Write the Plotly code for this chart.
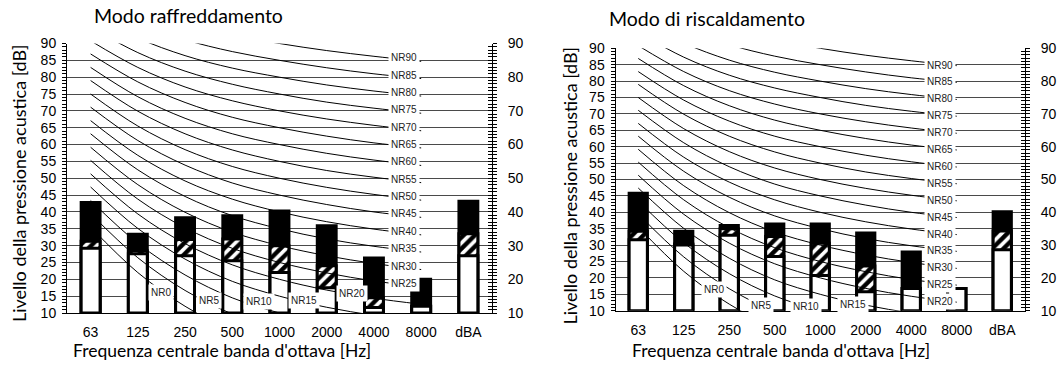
import plotly.graph_objects as go

# ---------------- data ----------------
categories = ["63", "125", "250", "500", "1000", "2000", "4000", "8000", "dBA"]
octave_bands = ["63", "125", "250", "500", "1000", "2000", "4000", "8000"]

# Cooling mode (left chart) - bar levels [dB]
cool_white = [29.2, 27.6, 27.0, 25.5, 22.0, 17.5, 11.6, 12.0, 27.0]
cool_hatch = [31.3, 28.5, 31.8, 32.0, 30.0, 24.0, 14.5, 12.0, 33.5]
cool_total = [42.8, 33.4, 38.3, 38.9, 40.3, 35.9, 26.3, 20.0, 43.2]

# Heating mode (right chart) - bar levels [dB]
heat_white = [31.6, 30.0, 33.0, 26.5, 20.7, 15.8, 16.8, 16.8, 28.6]
heat_hatch = [34.2, 30.3, 35.0, 32.6, 30.6, 23.6, 16.8, 16.8, 34.3]
heat_total = [45.8, 34.2, 36.0, 36.4, 36.4, 33.7, 27.9, 16.8, 40.2]

# NR reference curves (levels at 63..8000 Hz)
nr_levels = [0, 5, 10, 15, 20, 25, 30, 35, 40, 45, 50, 55, 60, 65, 70, 75, 80, 85, 90]
nr_curves = [
    [35.5, 22.0, 12.0, 4.8, 0.0, -3.5, -6.1, -8.0],
    [39.5, 26.4, 16.7, 9.7, 5.0, 1.6, -1.0, -2.9],
    [43.4, 30.7, 21.3, 14.5, 10.0, 6.7, 4.2, 2.3],
    [47.4, 35.1, 26.0, 19.4, 15.0, 11.7, 9.3, 7.5],
    [51.3, 39.4, 30.6, 24.3, 20.0, 16.8, 14.4, 12.6],
    [55.3, 43.8, 35.3, 29.2, 25.0, 21.9, 19.5, 17.8],
    [59.2, 48.1, 39.9, 34.0, 30.0, 27.0, 24.7, 22.9],
    [63.2, 52.5, 44.6, 38.9, 35.0, 32.0, 29.8, 28.1],
    [67.1, 56.8, 49.2, 43.8, 40.0, 37.1, 34.9, 33.2],
    [71.1, 61.2, 53.9, 48.6, 45.0, 42.2, 40.0, 38.4],
    [75.0, 65.5, 58.5, 53.5, 50.0, 47.3, 45.2, 43.5],
    [79.0, 69.9, 63.2, 58.4, 55.0, 52.3, 50.3, 48.7],
    [82.9, 74.2, 67.8, 63.2, 60.0, 57.4, 55.4, 53.8],
    [86.9, 78.6, 72.5, 68.1, 65.0, 62.5, 60.5, 59.0],
    [90.8, 82.9, 77.1, 73.0, 70.0, 67.6, 65.7, 64.1],
    [94.8, 87.3, 81.8, 77.9, 75.0, 72.6, 70.8, 69.3],
    [98.7, 91.6, 86.4, 82.7, 80.0, 77.7, 75.9, 74.4],
    [102.7, 96.0, 91.1, 87.6, 85.0, 82.8, 81.0, 79.6],
    [106.6, 100.3, 95.7, 92.5, 90.0, 87.9, 86.2, 84.7],
]

# NR labels placed along the curves (category index, level) for the low curves
cool_low_labels = {0: (1.49, 16.2), 5: (2.51, 13.7), 10: (3.57, 13.4), 15: (4.52, 13.6), 20: (5.54, 15.9)}
heat_low_labels = {0: (1.67, 16.5), 5: (2.70, 11.7), 10: (3.69, 11.4), 15: (4.73, 12.0)}

titles = ["Modo raffreddamento", "Modo di riscaldamento"]
y_title = "Livello della pressione acustica [dB]"
x_title = "Frequenza centrale banda d'ottava [Hz]"

# ---------------- figure ----------------
W, H = 1057, 368
BASE = 10
TICKFONT = dict(family="Liberation Sans, Arial", size=14, color="black")
TITLEFONT = "Lato, Open Sans, sans-serif"
LABELFONT = dict(family="Liberation Sans, Arial", size=10, color="#222")

fig = go.Figure()
BAR_LINE = dict(color="black", width=3)

def add_bars(xa, ya_black, ya_top, white, hatch, total):
    fig.add_trace(go.Bar(x=categories, y=[v - BASE for v in total], base=BASE, width=0.4,
                         marker=dict(color="black", line=BAR_LINE),
                         xaxis=xa, yaxis=ya_black, showlegend=False))
    fig.add_trace(go.Bar(x=categories, y=[v - BASE for v in hatch], base=BASE, width=0.4,
                         marker=dict(color="white", line=BAR_LINE,
                                     pattern=dict(shape="/", fgcolor="black", bgcolor="white",
                                                  fgopacity=1, size=8, solidity=0.55)),
                         xaxis=xa, yaxis=ya_top, showlegend=False))
    fig.add_trace(go.Bar(x=categories, y=[v - BASE for v in white], base=BASE, width=0.4,
                         marker=dict(color="white", line=BAR_LINE),
                         xaxis=xa, yaxis=ya_top, showlegend=False))

def add_curves(xa, ya):
    for curve in nr_curves:
        fig.add_trace(go.Scatter(x=octave_bands, y=curve, mode="lines",
                                 line=dict(color="black", width=1, shape="spline", smoothing=1),
                                 xaxis=xa, yaxis=ya, showlegend=False, hoverinfo="skip"))

add_bars("x", "y", "y2", cool_white, cool_hatch, cool_total)
add_curves("x", "y3")
add_bars("x2", "y4", "y5", heat_white, heat_hatch, heat_total)
add_curves("x2", "y6")

annotations = []
end_idx = octave_bands.index("8000")

def add_nr_labels(xref, yref, low_labels, yshift_hi):
    for lvl, curve in zip(nr_levels, nr_curves):
        if lvl in low_labels:
            xi, yv = low_labels[lvl]
            annotations.append(dict(x=xi, y=yv, xref=xref, yref=yref, text=f"NR{lvl}",
                                    showarrow=False, font=LABELFONT, bgcolor="white", borderpad=2,
                                    xanchor="center", yanchor="middle"))
        else:
            annotations.append(dict(x=end_idx, y=curve[-1], xref=xref, yref=yref, text=f"NR{lvl}",
                                    showarrow=False, font=LABELFONT, bgcolor="white", borderpad=2,
                                    xanchor="right", yanchor="middle", xshift=-1, yshift=yshift_hi))

add_nr_labels("x", "y", cool_low_labels, 3.5)
add_nr_labels("x2", "y4", heat_low_labels, 0.5)

def paper_text(text, px, py, size, angle=0):
    annotations.append(dict(text=text, x=px / W, y=1 - py / H,
                            xref="paper", yref="paper",
                            showarrow=False, xanchor="center", yanchor="middle", textangle=angle,
                            font=dict(family=TITLEFONT, size=size, color="black")))

paper_text(titles[0], 188, 16, 19.5)
paper_text(titles[1], 707, 19, 19.5)
paper_text(y_title, 19, 184, 18, -90)
paper_text(y_title, 569.5, 186, 18, -90)
paper_text(x_title, 222, 350, 17.5)
paper_text(x_title, 781, 350, 17.5)

def hdom(a, b):
    return [a / W, b / W]

def vdom(top, bottom):
    return [1 - bottom / H, 1 - top / H]

left_dom = hdom(67, 492)
right_dom = hdom(615.5, 1025)
ly_dom = vdom(43.5, 313)
ry_dom = vdom(48.3, 310.7)

def xaxis(dom, anchor):
    return dict(domain=dom, anchor=anchor, type="category", categoryorder="array",
                categoryarray=categories, range=[-0.5, 8.5], showgrid=False, zeroline=False,
                showline=True, linecolor="black", linewidth=1, ticks="", tickfont=TICKFONT,
                ticklabelstandoff=6, automargin=False, fixedrange=True)

def yleft(dom, anchor):
    return dict(domain=dom, anchor=anchor, range=[10, 90], tick0=10, dtick=5,
                showgrid=True, gridcolor="#4a4a4a", gridwidth=1, zeroline=False,
                showline=True, linecolor="black", linewidth=1,
                ticks="outside", ticklen=4, tickcolor="black", tickfont=TICKFONT,
                minor=dict(dtick=1, ticks="outside", ticklen=4, tickcolor="black", showgrid=False),
                ticklabelstandoff=3, automargin=False, fixedrange=True)

def yright(over, anchor, inside=False):
    d = dict(overlaying=over, anchor=anchor, side="right", range=[10, 90], tick0=10, dtick=10,
             showgrid=False, zeroline=False, showline=True, linecolor="black", linewidth=1,
             ticks="inside" if inside else "outside", ticklen=4, tickcolor="black",
             minor=dict(dtick=1, ticks="inside" if inside else "outside", ticklen=4,
                        tickcolor="black", showgrid=False),
             tickfont=TICKFONT, automargin=False, fixedrange=True)
    if inside:
        d["showticklabels"] = False
    else:
        d["ticklabelstandoff"] = 8
    return d

fig.update_layout(
    width=W, height=H,
    margin=dict(l=0, r=0, t=0, b=0, autoexpand=False),
    paper_bgcolor="white", plot_bgcolor="white",
    barmode="overlay",
    showlegend=False,
    hovermode=False,
    xaxis=xaxis(left_dom, "y"),
    yaxis=yleft(ly_dom, "x"),
    yaxis2=yright("y", "x"),
    yaxis3=yright("y", "x", inside=True),
    xaxis2=xaxis(right_dom, "y4"),
    yaxis4=yleft(ry_dom, "x2"),
    yaxis5=yright("y4", "x2"),
    yaxis6=yright("y4", "x2", inside=True),
    annotations=annotations,
)

fig.write_html("out.html", config={"displayModeBar": False, "staticPlot": True},
               post_script="document.body.style.margin='0';document.body.style.overflow='hidden';")
